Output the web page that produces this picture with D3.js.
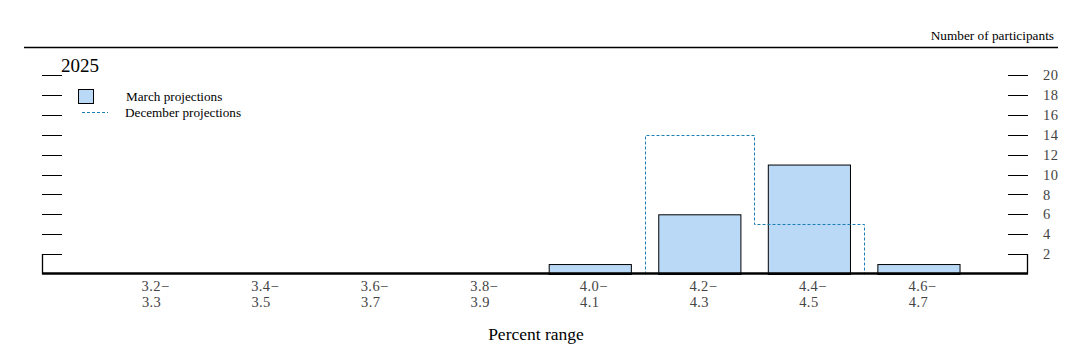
<!DOCTYPE html>
<html>
<head>
<meta charset="utf-8">
<script src="https://cdn.jsdelivr.net/npm/d3@7"></script>
<style>
  html, body { margin: 0; padding: 0; background: #fff; }
  svg { display: block; font-family: "Liberation Serif", "Times New Roman", serif; }
</style>
</head>
<body>
<svg id="chart" width="1089" height="359"></svg>
<script>
const categories = ["3.2", "3.4", "3.6", "3.8", "4.0", "4.2", "4.4", "4.6"];
const categoryEnds = ["3.3", "3.5", "3.7", "3.9", "4.1", "4.3", "4.5", "4.7"];
const marchValues = [0, 0, 0, 0, 1, 6, 11, 1];
const decemberValues = [0, 0, 0, 0, 0, 14, 5, 0];
const yTicks = [2, 4, 6, 8, 10, 12, 14, 16, 18, 20];
const panelTitle = "2025";

const svg = d3.select("#chart");
const left = 42, right = 1028, y0 = 274, yTop = 75;

const x = d3.scaleBand().domain(categories).range([left, right]).paddingInner(0).paddingOuter(0.5);
const y = d3.scaleLinear().domain([0, 20]).range([y0, yTop]);

// Top rule and header
svg.append("line").attr("x1", 24).attr("x2", 1058).attr("y1", 47.5).attr("y2", 47.5)
  .attr("stroke", "#000").attr("stroke-width", 1.3);
svg.append("text").attr("x", 1054).attr("y", 40).attr("text-anchor", "end")
  .attr("font-size", 13.3).attr("fill", "#000").text("Number of participants");

// Left ticks
const tickG = svg.append("g");
tickG.selectAll("line.lt").data(yTicks).join("line").attr("class", "lt")
  .attr("x1", left).attr("x2", left + 20)
  .attr("y1", d => Math.round(y(d)) + 0.5).attr("y2", d => Math.round(y(d)) + 0.5)
  .attr("stroke", "#000").attr("stroke-width", 1);
// Right axis
const rightAxis = d3.axisRight(y).tickValues(yTicks).tickSize(0).tickPadding(15);
const ra = svg.append("g").attr("transform", `translate(${right},0)`).call(rightAxis);
ra.select(".domain").remove();
ra.selectAll("text").attr("font-size", 14.5).attr("fill", "#444").attr("letter-spacing", 0.4)
  .attr("font-family", "Liberation Serif, Times New Roman, serif");
tickG.selectAll("line.rt").data(yTicks).join("line").attr("class", "rt")
  .attr("x1", right - 20).attr("x2", right)
  .attr("y1", d => Math.round(y(d)) + 0.5).attr("y2", d => Math.round(y(d)) + 0.5)
  .attr("stroke", "#000").attr("stroke-width", 1);
// Side verticals
svg.append("line").attr("x1", left + 0.5).attr("x2", left + 0.5).attr("y1", y(2)).attr("y2", y0)
  .attr("stroke", "#000").attr("stroke-width", 1.3);
svg.append("line").attr("x1", right - 0.5).attr("x2", right - 0.5).attr("y1", y(2)).attr("y2", y0)
  .attr("stroke", "#000").attr("stroke-width", 1.3);

// March bars
const barW = x.bandwidth() * 0.75;
svg.append("g").selectAll("rect").data(categories.map((c, i) => ({c, v: marchValues[i]})).filter(d => d.v > 0))
  .join("rect")
  .attr("x", d => x(d.c) + (x.bandwidth() - barW) / 2 + 0.5)
  .attr("y", d => y(d.v) + 0.5)
  .attr("width", barW)
  .attr("height", d => y0 - y(d.v))
  .attr("fill", "#b9d9f6").attr("stroke", "#000").attr("stroke-width", 1);

// December outline (step path)
const decData = categories.map((c, i) => ({c, v: decemberValues[i]}));
let pts = [];
decData.forEach(d => {
  if (d.v > 0) {
    pts.push([x(d.c), y(d.v)]);
    pts.push([x(d.c) + x.bandwidth(), y(d.v)]);
  }
});
const nz = decData.filter(d => d.v > 0);
const firstX = x(nz[0].c), lastX = x(nz[nz.length - 1].c) + x.bandwidth();
const path = [[firstX, y0]].concat(pts).concat([[lastX, y0]]);
svg.append("path").attr("d", d3.line()(path.map(p => [Math.round(p[0]) + 0.5, Math.round(p[1]) + 0.5])))
  .attr("fill", "none").attr("stroke", "#1a7fb3").attr("stroke-width", 1)
  .attr("stroke-dasharray", "3,2");

// Baseline axis
svg.append("line").attr("x1", left).attr("x2", right).attr("y1", y0 - 0.5).attr("y2", y0 - 0.5)
  .attr("stroke", "#000").attr("stroke-width", 2.5);

// X labels
const xl = svg.append("g");
categories.forEach((c, i) => {
  const cx = x(c) + x.bandwidth() / 2;
  xl.append("text").attr("x", cx + 4).attr("y", 291).attr("text-anchor", "middle")
    .attr("font-size", 14.5).attr("letter-spacing", 0.4).attr("fill", "#444").text(c + "\u2212");
  xl.append("text").attr("x", cx).attr("y", 307).attr("text-anchor", "middle")
    .attr("font-size", 14.5).attr("letter-spacing", 0.4).attr("fill", "#444").text(categoryEnds[i]);
});

svg.append("text").attr("x", 536).attr("y", 340).attr("text-anchor", "middle")
  .attr("font-size", 17.5).attr("fill", "#000").text("Percent range");

// Panel title & legend
svg.append("text").attr("x", 61).attr("y", 72).attr("font-size", 19).attr("fill", "#000").text(panelTitle);
svg.append("rect").attr("x", 78.5).attr("y", 89.5).attr("width", 15).attr("height", 14)
  .attr("fill", "#b9d9f6").attr("stroke", "#000").attr("stroke-width", 1);
svg.append("text").attr("x", 126).attr("y", 101).attr("font-size", 13.2).attr("fill", "#000").text("March projections");
svg.append("line").attr("x1", 82).attr("x2", 108).attr("y1", 112.5).attr("y2", 112.5)
  .attr("stroke", "#1a7fb3").attr("stroke-width", 1).attr("stroke-dasharray", "3,2");
svg.append("text").attr("x", 125).attr("y", 117).attr("font-size", 13.2).attr("fill", "#000").text("December projections");
</script>
</body>
</html>
